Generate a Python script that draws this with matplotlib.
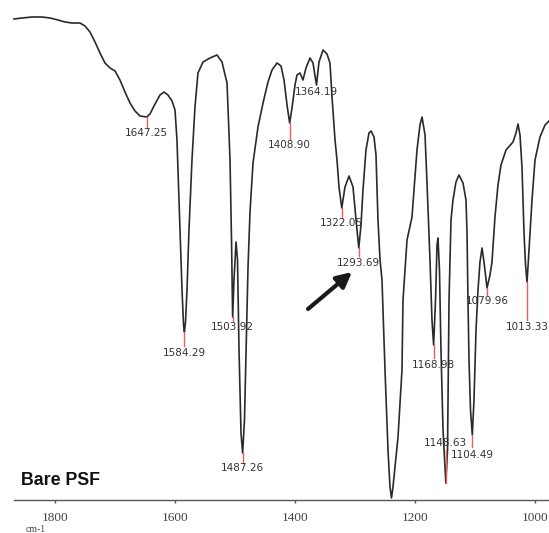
import matplotlib
matplotlib.use("Agg")
import matplotlib.pyplot as plt
import numpy as np

# ---- Spectrum (wavenumber cm-1, transmittance in arbitrary units) ----
wavenumber = [
    1868.3, 1855.0, 1838.3, 1821.7, 1808.3, 1795.0, 1783.3, 1771.7, 1758.3, 1750.0,
    1741.7, 1733.3, 1725.0, 1716.7, 1708.3, 1700.0, 1691.7, 1683.3, 1675.0, 1666.7,
    1658.3, 1647.25, 1641.7, 1633.3, 1625.0, 1618.3, 1611.7, 1605.0, 1600.0, 1596.7,
    1595.0, 1591.7, 1588.3, 1585.8, 1584.29, 1582.5, 1580.0, 1576.7, 1571.7, 1566.7,
    1561.7, 1553.3, 1541.7, 1530.0, 1521.7, 1513.3, 1511.7, 1508.3, 1505.8, 1503.92,
    1501.7, 1498.3, 1495.8, 1493.3, 1490.0, 1487.26, 1484.2, 1480.8, 1478.3, 1475.0,
    1470.0, 1461.7, 1453.3, 1445.0, 1438.3, 1430.0, 1423.3, 1418.3, 1413.3, 1408.90,
    1405.0, 1400.0, 1396.7, 1391.7, 1386.7, 1381.7, 1375.0, 1370.0, 1364.19, 1360.0,
    1353.3, 1346.7, 1341.7, 1338.3, 1333.3, 1330.0, 1326.7, 1322.05, 1316.7, 1310.0,
    1303.3, 1298.3, 1293.69, 1290.0, 1286.7, 1281.7, 1276.7, 1273.3, 1268.3, 1265.0,
    1261.7, 1258.3, 1255.0, 1250.0, 1245.0, 1241.7, 1239.2, 1236.7, 1228.3, 1221.7,
    1220.0, 1213.3, 1205.0, 1196.7, 1191.7, 1188.3, 1183.3, 1180.0, 1175.0, 1171.7,
    1168.98, 1165.8, 1163.3, 1161.7, 1159.2, 1156.7, 1153.3, 1148.63, 1145.8, 1143.3,
    1140.0, 1136.7, 1131.7, 1126.7, 1120.0, 1115.0, 1113.3, 1111.7, 1110.0, 1107.5,
    1104.49, 1101.7, 1098.3, 1095.0, 1091.7, 1088.3, 1085.0, 1079.96, 1075.0, 1071.7,
    1066.7, 1061.7, 1056.7, 1048.3, 1036.7, 1031.7, 1028.3, 1025.0, 1021.7, 1018.3,
    1015.8, 1013.33, 1011.7, 1005.0, 1000.0, 991.7, 983.3, 976.7,
]
transmittance = [
    481, 482, 483, 483, 482, 480, 478, 477, 477, 474,
    468, 458, 447, 437, 432, 429, 420, 408, 397, 389,
    384, 383, 386, 396, 405, 408, 405, 399, 390, 360,
    330, 270, 210, 175, 168, 178, 210, 270, 340, 393,
    427, 438, 442, 445, 438, 417, 393, 340, 260, 183,
    220, 258, 240, 150, 67, 47, 80, 170, 233, 288,
    337, 373, 397, 418, 430, 437, 434, 420, 395, 377,
    392, 415, 425, 427, 420, 432, 442, 437, 415, 438,
    450, 446, 437, 403, 360, 340, 313, 292, 313, 324,
    313, 280, 252, 275, 310, 350, 367, 369, 363, 345,
    280, 240, 220, 130, 50, 13, 2, 13, 63, 130,
    200, 260, 283, 350, 375, 383, 365, 317, 240, 180,
    155, 200, 255, 262, 230, 150, 70, 17, 50, 200,
    280, 300, 318, 325, 317, 300, 267, 200, 140, 90,
    65, 100, 170, 210, 238, 252, 238, 212, 225, 238,
    283, 315, 335, 350, 358, 367, 376, 365, 333, 267,
    235, 218, 233, 300, 340, 363, 375, 379,
]

# ---- Labelled peaks ----
peak_labels = ["1647.25", "1584.29", "1503.92", "1487.26", "1408.90", "1364.19",
               "1322.05", "1293.69", "1168.98", "1148.63", "1104.49", "1079.96",
               "1013.33"]
peak_pos = [1647.25, 1584.29, 1503.92, 1487.26, 1408.90, 1364.19,
            1322.05, 1293.69, 1168.98, 1148.63, 1104.49, 1079.96, 1013.33]
peak_val = [383, 168, 183, 47, 377, 415, 292, 252, 155, 17, 65, 212, 218]
# marker stem length and label drop below the peak (same units as transmittance)
stem_len = [11, 14, 4, 10, 16, 0, 10, 8, 13, -33, 12, 7, 38]
label_drop = [16, 21, 10, 15, 22, 7, 15, 15, 20, -40, 20, 13, 45]

xticks = [1800, 1600, 1400, 1200, 1000]
tick_labels = ["1800", "1600", "1400", "1200", "1000"]

W, H = 549, 533
fig = plt.figure(figsize=(W / 100, H / 100), dpi=100)
ax = fig.add_axes([14 / W, 33 / H, (W - 14) / W, 500 / H])
ax.set_xlim(1868.33, 976.67)
ax.set_ylim(0, 500)

ax.plot(wavenumber, transmittance, color="#2a2a2a", lw=1.2, clip_on=False,
        solid_joinstyle="round")

for lab, x, y, s, d in zip(peak_labels, peak_pos, peak_val, stem_len, label_drop):
    if s != 0:
        ax.plot([x, x], [y, y - s], color="#e8605a", lw=1.0, zorder=3)
    ax.text(x, y - d, lab, ha="center", va="center", fontsize=7.5,
            color="#333333", family="DejaVu Sans", zorder=4)

# arrow pointing to the 1293.69 band
ax.annotate("", xy=(1305.0, 228), xytext=(1378.3, 191),
            arrowprops=dict(arrowstyle="-|>,head_length=0.9,head_width=0.45",
                            color="#1a1a1a", lw=3.0, shrinkA=0, shrinkB=0))

for sp in ["left", "right", "top"]:
    ax.spines[sp].set_visible(False)
ax.spines["bottom"].set_color("#555555")
ax.spines["bottom"].set_linewidth(1.0)
ax.set_yticks([])
ax.set_xticks(xticks)
ax.set_xticklabels(tick_labels, family="Liberation Serif", fontsize=9.5,
                   color="#444444")
ax.tick_params(axis="x", length=2.5, width=1, color="#555555", pad=6)

fig.text(36 / W, 1 - 529 / H, "cm-1", family="Liberation Serif", fontsize=7,
         ha="center", va="center", color="#444444")
fig.text(21 / W, 1 - 485 / H, "Bare PSF", family="Liberation Sans",
         fontweight="bold", fontsize=12.8, ha="left", va="baseline",
         color="#111111")

fig.savefig("out.png", dpi=100)
